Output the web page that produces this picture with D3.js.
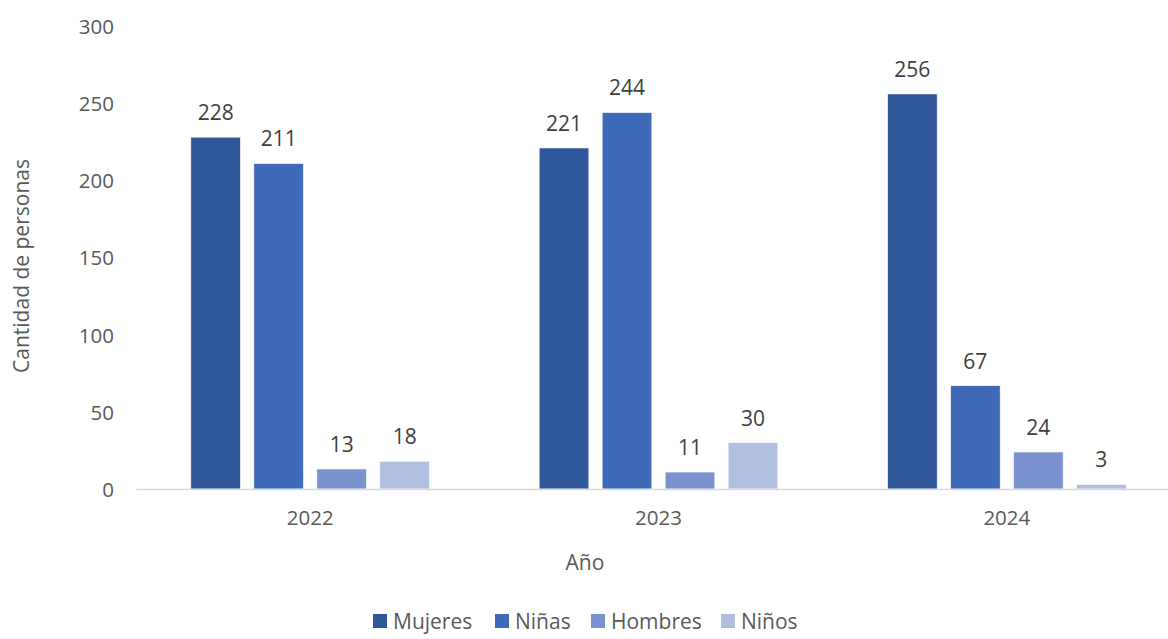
<!DOCTYPE html>
<html>
<head>
<meta charset="utf-8">
<script src="https://cdn.jsdelivr.net/npm/d3@7"></script>
<style>
  body { margin: 0; background: #fff; }
  svg text { font-family: "Open Sans", "Noto Sans", sans-serif; }
</style>
</head>
<body>
<svg id="chart" width="1168" height="639"></svg>
<script>
// data
const years = ["2022", "2023", "2024"];
const seriesNames = ["Mujeres", "Niñas", "Hombres", "Niños"];
const mujeres = [228, 221, 256];
const ninas = [211, 244, 67];
const hombres = [13, 11, 24];
const ninos = [18, 30, 3];
const yTicks = [0, 50, 100, 150, 200, 250, 300];
const colors = ["#30579A", "#3E6AB9", "#7A93D0", "#B0BEE0"];

const values = [mujeres, ninas, hombres, ninos];

let svg = d3.select("#chart");

let x0 = d3.scaleBand()
    .domain(years)
    .range([136, 1181])
    .padding(0);

let x1 = d3.scaleBand()
    .domain(seriesNames)
    .range([0, x0.bandwidth()])
    .paddingInner(0.21)
    .paddingOuter(0.87);

let y = d3.scaleLinear()
    .domain([0, 300])
    .range([489, 26]);

let color = d3.scaleOrdinal().domain(seriesNames).range(colors);

// y axis (labels only, no line)
let yAxis = d3.axisLeft(y).tickValues(yTicks).tickSize(0).tickPadding(0);
let gy = svg.append("g")
    .attr("transform", "translate(114,0)")
    .call(yAxis);
gy.select(".domain").remove();
gy.selectAll("text")
    .attr("fill", "#595959")
    .style("font-size", "20.5px")
    .attr("dy", "0.36em");

// bars
let rows = [];
years.forEach(function (yr, i) {
    seriesNames.forEach(function (s, j) {
        rows.push({ year: yr, series: s, value: values[j][i] });
    });
});

svg.append("g").selectAll("rect")
    .data(rows)
    .enter()
    .append("rect")
    .attr("x", function (d) { return x0(d.year) + x1(d.series); })
    .attr("y", function (d) { return y(d.value); })
    .attr("width", x1.bandwidth())
    .attr("height", function (d) { return y(0) - y(d.value); })
    .attr("fill", function (d) { return color(d.series); })
    .attr("stroke", "#ffffff")
    .attr("stroke-width", 0.7);

// value labels
svg.append("g").selectAll("text")
    .data(rows)
    .enter()
    .append("text")
    .attr("x", function (d) { return x0(d.year) + x1(d.series) + x1.bandwidth() / 2; })
    .attr("y", function (d) { return y(d.value) - 17; })
    .attr("text-anchor", "middle")
    .attr("fill", "#404040")
    .style("font-size", "21px")
    .text(function (d) { return d.value; });

// x axis
let xAxis = d3.axisBottom(x0).tickSize(0).tickPadding(21);
let gx = svg.append("g")
    .attr("transform", "translate(0," + y(0) + ")")
    .call(xAxis);
gx.select(".domain").attr("stroke", "#d9d9d9").attr("stroke-width", 1.5);
gx.selectAll("text")
    .attr("fill", "#595959")
    .style("font-size", "20.5px");

// axis titles
svg.append("text")
    .attr("transform", "translate(29,266) rotate(-90)")
    .attr("text-anchor", "middle")
    .attr("fill", "#595959")
    .style("font-size", "21px")
    .text("Cantidad de personas");

svg.append("text")
    .attr("x", 585)
    .attr("y", 570)
    .attr("text-anchor", "middle")
    .attr("fill", "#595959")
    .style("font-size", "21px")
    .text("Año");

// legend
let legendX = [373, 495, 591, 721];
let legend = svg.append("g").selectAll("g")
    .data(seriesNames)
    .enter()
    .append("g")
    .attr("transform", function (d, i) { return "translate(" + legendX[i] + ",614)"; });

legend.append("rect")
    .attr("width", 14)
    .attr("height", 14)
    .attr("fill", function (d) { return color(d); });

legend.append("text")
    .attr("x", 20)
    .attr("y", 7)
    .attr("dy", "0.36em")
    .attr("fill", "#595959")
    .style("font-size", "21px")
    .text(function (d) { return d; });
</script>
</body>
</html>
